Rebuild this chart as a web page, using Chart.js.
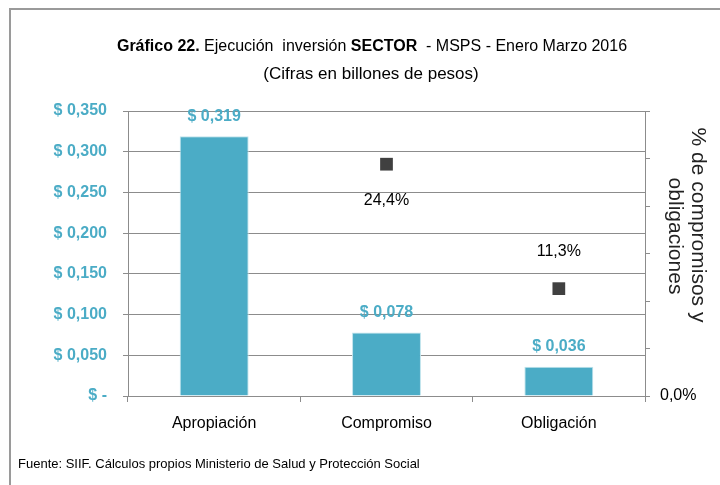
<!DOCTYPE html>
<html>
<head>
<meta charset="utf-8">
<script src="https://cdn.jsdelivr.net/npm/chart.js@4.4.1/dist/chart.umd.min.js"></script>
<style>
html,body{margin:0;padding:0;background:#fff;}
#wrap{position:relative;width:720px;height:485px;}
</style>
</head>
<body>
<div id="wrap"><canvas id="c" width="720" height="485"></canvas></div>
<script>
const categories = ['Apropiación', 'Compromiso', 'Obligación'];
const amounts = [0.319, 0.078, 0.036];
const percents = [null, 24.4, 11.3];
const amountTicks = [0, 0.05, 0.10, 0.15, 0.20, 0.25, 0.30, 0.35];
const titleParts = [['Gráfico 22.', true], [' Ejecución  inversión ', false], ['SECTOR', true], ['  - MSPS - Enero Marzo 2016', false]];
const subtitle = '(Cifras en billones de pesos)';
const rightTitle = ['% de compromisos y', 'obligaciones'];
const source = 'Fuente: SIIF. Cálculos propios Ministerio de Salud y Protección Social';

const F = '"Liberation Sans Narrow", "Liberation Sans", Arial, sans-serif';
const TEAL = '#4BACC6';
const GRID = '#8c8c8c';

function money(v){
  if (Math.abs(v) < 1e-9) return '$ -';
  return '$ ' + v.toFixed(3).replace('.', ',');
}
function pct(v){ return v.toFixed(1).replace('.', ',') + '%'; }

const decor = {
  id: 'decor',
  afterDraw(chart){
    const ctx = chart.ctx;
    ctx.save();
    // frame
    ctx.strokeStyle = '#9a9a9a';
    ctx.lineWidth = 2;
    ctx.beginPath();
    ctx.moveTo(10, 485); ctx.lineTo(10, 9); ctx.lineTo(720, 9);
    ctx.stroke();
    // title
    ctx.fillStyle = '#000';
    ctx.textBaseline = 'middle';
    ctx.textAlign = 'left';
    let total = 0;
    const widths = titleParts.map(([t, b]) => { ctx.font = (b ? 'bold ' : '') + '16px ' + F; const w = ctx.measureText(t).width; total += w; return w; });
    let x = 372 - total / 2;
    titleParts.forEach(([t, b], i) => { ctx.font = (b ? 'bold ' : '') + '16px ' + F; ctx.fillText(t, x, 47); x += widths[i]; });
    ctx.font = '17px ' + F;
    ctx.textAlign = 'center';
    ctx.fillText(subtitle, 371, 74);
    // source
    ctx.textAlign = 'left';
    ctx.font = '13px ' + F;
    ctx.fillText(source, 18, 464);
    // right title
    ctx.font = '21px ' + F;
    ctx.fillStyle = '#222';
    ctx.textAlign = 'center';
    ctx.save(); ctx.translate(698, 225); ctx.rotate(Math.PI / 2); ctx.fillText(rightTitle[0], 0, 0); ctx.restore();
    ctx.save(); ctx.translate(675, 236); ctx.rotate(Math.PI / 2); ctx.fillText(rightTitle[1], 0, 0); ctx.restore();
    // bar labels
    const m0 = chart.getDatasetMeta(0);
    ctx.font = 'bold 16px ' + F;
    ctx.fillStyle = TEAL;
    m0.data.forEach((el, i) => { ctx.fillText(money(amounts[i]), el.x, el.y - 20); });
    // percent labels
    const m1 = chart.getDatasetMeta(1);
    ctx.font = '16px ' + F;
    ctx.fillStyle = '#000';
    m1.data.forEach((el, i) => {
      if (percents[i] == null) return;
      const off = i === 1 ? 36 : -37;
      ctx.fillText(pct(percents[i]), el.x, el.y + off);
    });
    ctx.restore();
  }
};

new Chart(document.getElementById('c'), {
  data: {
    labels: categories,
    datasets: [
      { type: 'bar', data: amounts, backgroundColor: TEAL, borderColor: '#bfe3ec', borderWidth: 1, barPercentage: 0.4, categoryPercentage: 1, yAxisID: 'y', order: 2 },
      { type: 'line', data: percents, showLine: false, yAxisID: 'y1', pointStyle: 'rect', pointRadius: 9, pointHoverRadius: 9, backgroundColor: '#404040', borderColor: '#404040', borderWidth: 0, order: 1 }
    ]
  },
  options: {
    responsive: false,
    animation: false,
    events: [],
    layout: { padding: { left: 10, right: 0, top: 111, bottom: 0 } },
    plugins: { legend: { display: false }, tooltip: { enabled: false } },
    scales: {
      x: {
        offset: true,
        grid: { offset: true, drawOnChartArea: false, drawTicks: true, tickLength: 6, color: GRID, tickColor: GRID },
        border: { color: GRID, width: 1 },
        ticks: { color: '#000', font: { family: F, size: 16 }, padding: 12 },
        afterFit(s){ s.height = 89; }
      },
      y: {
        position: 'left',
        min: 0, max: 0.35,
        afterBuildTicks(s){ s.ticks = amountTicks.map(v => ({ value: v })); },
        grid: { color: GRID, tickLength: 5, tickColor: GRID },
        border: { color: GRID, width: 1 },
        ticks: { color: TEAL, font: { family: F, size: 16, weight: 'bold' }, padding: 16, callback: v => money(v) },
        afterFit(s){ s.width = 118; }
      },
      y1: {
        position: 'right',
        min: 0, max: 30,
        ticks: { stepSize: 5, color: '#000', font: { family: F, size: 16 }, padding: 10, callback: v => v === 0 ? '0,0%' : '' },
        grid: { drawOnChartArea: false, tickLength: 5, color: GRID, tickColor: GRID },
        border: { color: GRID, width: 1 },
        afterFit(s){ s.width = 75; }
      }
    }
  },
  plugins: [decor]
});
</script>
</body>
</html>
